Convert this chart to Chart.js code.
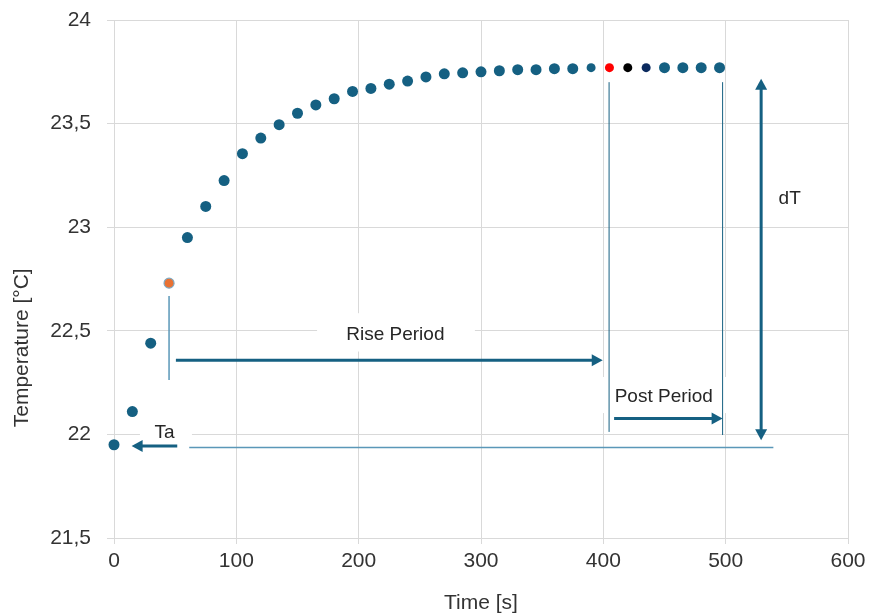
<!DOCTYPE html>
<html>
<head>
<meta charset="utf-8">
<title>Temperature rise</title>
<script src="https://cdn.jsdelivr.net/npm/chart.js@4.4.1/dist/chart.umd.min.js"></script>
<style>
  html, body { margin: 0; padding: 0; background: #fff; }
  #wrap { width: 869px; height: 616px; }
</style>
</head>
<body>
<div id="wrap"><canvas id="riseChart" width="869" height="616"></canvas></div>
<script>
// measured temperature, one reading every 15 s
const times = [0, 15, 30, 45, 60, 75, 90, 105, 120, 135, 150, 165, 180, 195, 210, 225, 240,
  255, 270, 285, 300, 315, 330, 345, 360, 375, 390, 405, 420, 435, 450, 465, 480, 495];
const temps = [21.95, 22.11, 22.44, 22.73, 22.95, 23.10, 23.225, 23.355, 23.43, 23.495, 23.55,
  23.59, 23.62, 23.655, 23.67, 23.69, 23.705, 23.725, 23.74, 23.745, 23.75, 23.755, 23.76,
  23.76, 23.765, 23.765, 23.77, 23.77, 23.77, 23.77, 23.77, 23.77, 23.77, 23.77];

const xTicks = [0, 100, 200, 300, 400, 500, 600];
const yTicks = [21.5, 22, 22.5, 23, 23.5, 24];

const BLUE = '#156082';
const LIGHT = '#5a97b8';
const GRID = '#d9d9d9';
const TEXT = '#333333';
const FONT = 'Liberation Sans, Arial, sans-serif';

// highlighted readings: start of rise, and the three after the rise period
const marked = {
  45: { fill: '#E97132', border: '#7fa9c2', r: 5 },
  390: { fill: BLUE, border: BLUE, r: 4.5 },
  405: { fill: '#ff0000', border: '#ff0000', r: 4.5 },
  420: { fill: '#000000', border: '#000000', r: 4.5 },
  435: { fill: '#0b2a5e', border: '#0b2a5e', r: 4.5 }
};

// annotation geometry, in axis units (time, temperature)
const thinLines = [
  { x: [45, 45], y: [22.668, 22.262], color: LIGHT, w: 1.5 },
  { x: [404.7, 404.7], y: [23.70, 22.012], color: BLUE, w: 1 },
  { x: [497.5, 497.5], y: [23.70, 21.997], color: BLUE, w: 1 },
  { x: [61.5, 539], y: [21.937, 21.937], color: LIGHT, w: 1.5 }
];
const arrows = [
  { from: [50.6, 22.358], to: [399.5, 22.358], both: false },
  { from: [408.8, 22.077], to: [497.5, 22.077], both: false },
  { from: [529, 21.972], to: [529, 23.717], both: true },
  { from: [51.7, 21.944], to: [14.4, 21.944], both: false }
];
const notes = [
  { text: 'Rise Period', at: [230, 22.48], box: [166, 295, 22.40, 22.585] },
  { text: 'Post Period', at: [449.4, 22.181], box: [395.4, 504.9, 22.103, 22.277] },
  { text: 'Ta', at: [41.3, 22.007], box: [21.2, 63.7, 21.945, 22.06] },
  { text: 'dT', at: [552.3, 23.138], box: null }
];
// y axis title sits a little below the middle of the axis
const yTitle = { text: 'Temperature [°C]', x: 22, at: 22.418 };

function headAt(ctx, x0, y0, x1, y1) {
  const a = Math.atan2(y1 - y0, x1 - x0);
  const len = 11, half = 6;
  ctx.beginPath();
  ctx.moveTo(x1, y1);
  ctx.lineTo(x1 - len * Math.cos(a) + half * Math.sin(a), y1 - len * Math.sin(a) - half * Math.cos(a));
  ctx.lineTo(x1 - len * Math.cos(a) - half * Math.sin(a), y1 - len * Math.sin(a) + half * Math.cos(a));
  ctx.closePath();
  ctx.fill();
}

const guides = {
  id: 'guides',
  beforeDatasetsDraw(chart) {
    const { ctx, scales: { x, y } } = chart;
    const px = v => x.getPixelForValue(v);
    const py = v => y.getPixelForValue(v);
    ctx.save();

    // white patches behind the labels cover the grid
    ctx.fillStyle = '#ffffff';
    notes.forEach(n => {
      if (!n.box) return;
      const [x0, x1, y0, y1] = n.box;
      ctx.fillRect(px(x0), py(y1), px(x1) - px(x0), py(y0) - py(y1));
    });

    thinLines.forEach(l => {
      ctx.strokeStyle = l.color;
      ctx.lineWidth = l.w;
      ctx.beginPath();
      ctx.moveTo(px(l.x[0]), py(l.y[0]));
      ctx.lineTo(px(l.x[1]), py(l.y[1]));
      ctx.stroke();
    });

    ctx.strokeStyle = BLUE;
    ctx.fillStyle = BLUE;
    ctx.lineWidth = 3;
    arrows.forEach(a => {
      const x0 = px(a.from[0]), y0 = py(a.from[1]);
      const x1 = px(a.to[0]), y1 = py(a.to[1]);
      const d = Math.hypot(x1 - x0, y1 - y0);
      const ux = (x1 - x0) / d, uy = (y1 - y0) / d;
      let sx = x0, sy = y0;
      if (a.both) { sx += ux * 8; sy += uy * 8; }
      ctx.beginPath();
      ctx.moveTo(sx, sy);
      ctx.lineTo(x1 - ux * 8, y1 - uy * 8);
      ctx.stroke();
      headAt(ctx, x0, y0, x1, y1);
      if (a.both) headAt(ctx, x1, y1, x0, y0);
    });

    ctx.fillStyle = '#262626';
    ctx.font = '19px ' + FONT;
    ctx.textAlign = 'center';
    ctx.textBaseline = 'middle';
    notes.forEach(n => ctx.fillText(n.text, px(n.at[0]), py(n.at[1])));

    ctx.translate(yTitle.x, py(yTitle.at));
    ctx.rotate(-Math.PI / 2);
    ctx.fillStyle = TEXT;
    ctx.font = '21px ' + FONT;
    ctx.fillText(yTitle.text, 0, 0);
    ctx.restore();
  }
};

const points = times.map((t, i) => ({ x: t, y: temps[i] }));

new Chart(document.getElementById('riseChart'), {
  type: 'scatter',
  data: {
    datasets: [{
      label: 'Temperature',
      data: points,
      clip: false,
      pointRadius: times.map(t => marked[t] ? marked[t].r : 5.5),
      pointBackgroundColor: times.map(t => marked[t] ? marked[t].fill : BLUE),
      pointBorderColor: times.map(t => marked[t] ? marked[t].border : BLUE),
      pointBorderWidth: times.map(t => t === 45 ? 1.2 : 0),
      pointHoverRadius: 6
    }]
  },
  options: {
    responsive: false,
    animation: false,
    devicePixelRatio: 1,
    layout: { padding: { top: 20, right: 21, left: 0, bottom: 0 } },
    plugins: { legend: { display: false }, tooltip: { enabled: false } },
    scales: {
      x: {
        type: 'linear',
        min: 0,
        max: 600,
        afterBuildTicks: s => { s.ticks = xTicks.map(v => ({ value: v })); },
        afterFit: s => { s.height = 78; s.paddingLeft = 0; s.paddingRight = 0; },
        grid: { color: GRID, tickColor: GRID, tickLength: 6 },
        border: { color: GRID },
        ticks: { color: TEXT, padding: 5, font: { family: FONT, size: 21 } },
        title: {
          display: true,
          text: 'Time [s]',
          color: TEXT,
          padding: { top: 0, bottom: 0 },
          font: { family: FONT, size: 21 }
        }
      },
      y: {
        type: 'linear',
        min: 21.5,
        max: 24,
        afterBuildTicks: s => { s.ticks = yTicks.map(v => ({ value: v })); },
        afterFit: s => { s.width = 114; s.paddingTop = 0; s.paddingBottom = 0; },
        grid: { color: GRID, tickColor: GRID, tickLength: 7 },
        border: { color: GRID },
        ticks: {
          color: TEXT,
          padding: 16,
          font: { family: FONT, size: 21 },
          callback: v => String(v).replace('.', ',')
        },
        title: { display: false }
      }
    }
  },
  plugins: [guides]
});
</script>
</body>
</html>
